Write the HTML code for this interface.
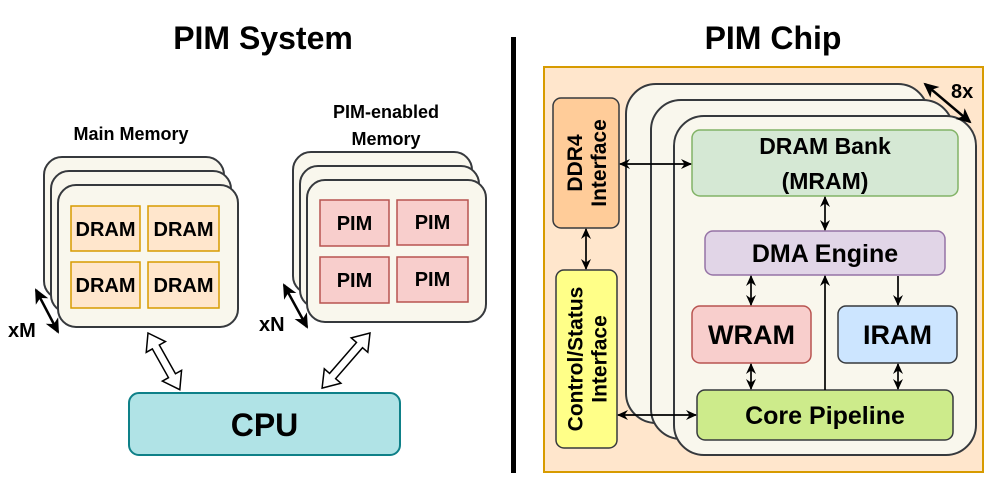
<!DOCTYPE html>
<html><head><meta charset="utf-8"><style>
html,body{margin:0;padding:0;background:#fff;}
svg{display:block;font-family:"Liberation Sans",Arial,sans-serif;font-weight:bold;}
</style></head><body>
<svg width="996" height="481" viewBox="0 0 996 481" xmlns="http://www.w3.org/2000/svg">
<defs>
<marker id="ah" markerWidth="12" markerHeight="12" refX="10" refY="6" orient="auto-start-reverse" markerUnits="userSpaceOnUse">
<path d="M0,1 L11,6 L0,11 L3.5,6 Z" fill="#000"/></marker>
<marker id="ab" markerWidth="16" markerHeight="16" refX="13" refY="8" orient="auto-start-reverse" markerUnits="userSpaceOnUse">
<path d="M0,1 L15,8 L0,15 L4,8 Z" fill="#000"/></marker>
</defs>
<text x="263" y="49" font-size="32" text-anchor="middle">PIM System</text>
<text x="773" y="49" font-size="32" text-anchor="middle">PIM Chip</text>
<rect x="511" y="37" width="5" height="436" fill="#000"/>

<text x="131" y="140" font-size="18" text-anchor="middle">Main Memory</text>
<g fill="#f9f7ed" stroke="#36393d" stroke-width="2">
<rect x="44" y="157" width="180" height="142" rx="18"/>
<rect x="51" y="171" width="180" height="142" rx="18"/>
<rect x="58" y="185" width="180" height="142" rx="18"/>
</g>
<g fill="#ffe6cc" stroke="#d79b00" stroke-width="1.5">
<rect x="71" y="206" width="69" height="45"/>
<rect x="148" y="206" width="71" height="45"/>
<rect x="71" y="262" width="69" height="46"/>
<rect x="148" y="262" width="71" height="46"/>
</g>
<g font-size="20" text-anchor="middle">
<text x="105.5" y="236">DRAM</text><text x="183.5" y="236">DRAM</text>
<text x="105.5" y="292">DRAM</text><text x="183.5" y="292">DRAM</text>
</g>
<line x1="36" y1="290" x2="58" y2="332" stroke="#000" stroke-width="2.5" marker-start="url(#ab)" marker-end="url(#ab)"/>
<text x="8" y="337" font-size="20">xM</text>

<text x="386" y="118" font-size="18" text-anchor="middle">PIM-enabled</text>
<text x="386" y="145" font-size="18" text-anchor="middle">Memory</text>
<g fill="#f9f7ed" stroke="#36393d" stroke-width="2">
<rect x="293" y="152" width="179" height="142" rx="18"/>
<rect x="300" y="166" width="179" height="142" rx="18"/>
<rect x="307" y="180" width="179" height="142" rx="18"/>
</g>
<g fill="#f8cecc" stroke="#b85450" stroke-width="1.5">
<rect x="320" y="200" width="69" height="46"/>
<rect x="397" y="200" width="71" height="45"/>
<rect x="320" y="257" width="69" height="46"/>
<rect x="397" y="257" width="71" height="45"/>
</g>
<g font-size="20" text-anchor="middle">
<text x="354.5" y="230">PIM</text><text x="432.5" y="229">PIM</text>
<text x="354.5" y="287">PIM</text><text x="432.5" y="286">PIM</text>
</g>
<line x1="284" y1="285" x2="307" y2="327" stroke="#000" stroke-width="2.5" marker-start="url(#ab)" marker-end="url(#ab)"/>
<text x="259" y="331" font-size="20">xN</text>

<g fill="#fff" stroke="#000" stroke-width="1.5">
<g transform="translate(148,333) rotate(60.7)">
<polygon points="0,0 16,-11 16,-4 49,-4 49,-11 65,0 49,11 49,4 16,4 16,11"/>
</g>
<g transform="translate(370,333) rotate(131)">
<polygon points="0,0 16,-11 16,-4 57,-4 57,-11 73,0 57,11 57,4 16,4 16,11"/>
</g>
</g>

<rect x="129" y="393" width="271" height="62" rx="10" fill="#b0e3e6" stroke="#0e8088" stroke-width="2"/>
<text x="264.5" y="436" font-size="32" text-anchor="middle">CPU</text>

<rect x="544" y="67" width="439" height="405" fill="#ffe6cc" stroke="#d79b00" stroke-width="2"/>
<g fill="#f9f7ed" stroke="#36393d" stroke-width="2">
<rect x="626" y="84" width="302" height="339" rx="30"/>
<rect x="651" y="100" width="302" height="339" rx="30"/>
<rect x="674" y="116" width="302" height="339" rx="30"/>
</g>
<line x1="925" y1="84" x2="970" y2="122" stroke="#000" stroke-width="2.5" marker-start="url(#ab)" marker-end="url(#ab)"/>
<text x="951" y="98" font-size="20">8x</text>

<rect x="553" y="98" width="66" height="130" rx="8" fill="#ffcc99" stroke="#36393d" stroke-width="1.5"/>
<text transform="translate(586,163) rotate(-90)" font-size="21" text-anchor="middle"><tspan x="0" y="-4">DDR4</tspan><tspan x="0" y="20">Interface</tspan></text>
<rect x="556" y="270" width="61" height="178" rx="8" fill="#ffff88" stroke="#36393d" stroke-width="1.5"/>
<text transform="translate(586.5,359) rotate(-90)" font-size="21" text-anchor="middle"><tspan x="0" y="-4">Control/Status</tspan><tspan x="0" y="20">Interface</tspan></text>

<rect x="692" y="130" width="266" height="66" rx="8" fill="#d5e8d4" stroke="#82b366" stroke-width="1.5"/>
<text x="825" y="154" font-size="23" text-anchor="middle">DRAM Bank</text>
<text x="825" y="189" font-size="23" text-anchor="middle">(MRAM)</text>
<rect x="705" y="231" width="240" height="44" rx="8" fill="#e1d5e7" stroke="#9673a6" stroke-width="1.5"/>
<text x="825" y="262" font-size="25" text-anchor="middle">DMA Engine</text>
<rect x="692" y="306" width="119" height="57" rx="8" fill="#f8cecc" stroke="#b85450" stroke-width="1.5"/>
<text x="751.5" y="344" font-size="27" text-anchor="middle">WRAM</text>
<rect x="838" y="306" width="119" height="57" rx="8" fill="#cce5ff" stroke="#36393d" stroke-width="1.5"/>
<text x="897.5" y="344" font-size="27" text-anchor="middle">IRAM</text>
<rect x="697" y="390" width="256" height="50" rx="8" fill="#cdeb8b" stroke="#36393d" stroke-width="1.5"/>
<text x="825" y="424" font-size="25" text-anchor="middle">Core Pipeline</text>

<g stroke="#000" stroke-width="1.7">
<line x1="620" y1="164" x2="691" y2="164" marker-start="url(#ah)" marker-end="url(#ah)"/>
<line x1="618" y1="415" x2="696" y2="415" marker-start="url(#ah)" marker-end="url(#ah)"/>
<line x1="586" y1="229" x2="586" y2="269" marker-start="url(#ah)" marker-end="url(#ah)"/>
<line x1="825" y1="197" x2="825" y2="230" marker-start="url(#ah)" marker-end="url(#ah)"/>
<line x1="751" y1="276" x2="751" y2="305" marker-start="url(#ah)" marker-end="url(#ah)"/>
<line x1="898" y1="276" x2="898" y2="305" marker-end="url(#ah)"/>
<line x1="825" y1="390" x2="825" y2="276" marker-end="url(#ah)"/>
<line x1="751" y1="364" x2="751" y2="389" marker-start="url(#ah)" marker-end="url(#ah)"/>
<line x1="898" y1="364" x2="898" y2="389" marker-start="url(#ah)" marker-end="url(#ah)"/>
</g>
</svg>
</body></html>
